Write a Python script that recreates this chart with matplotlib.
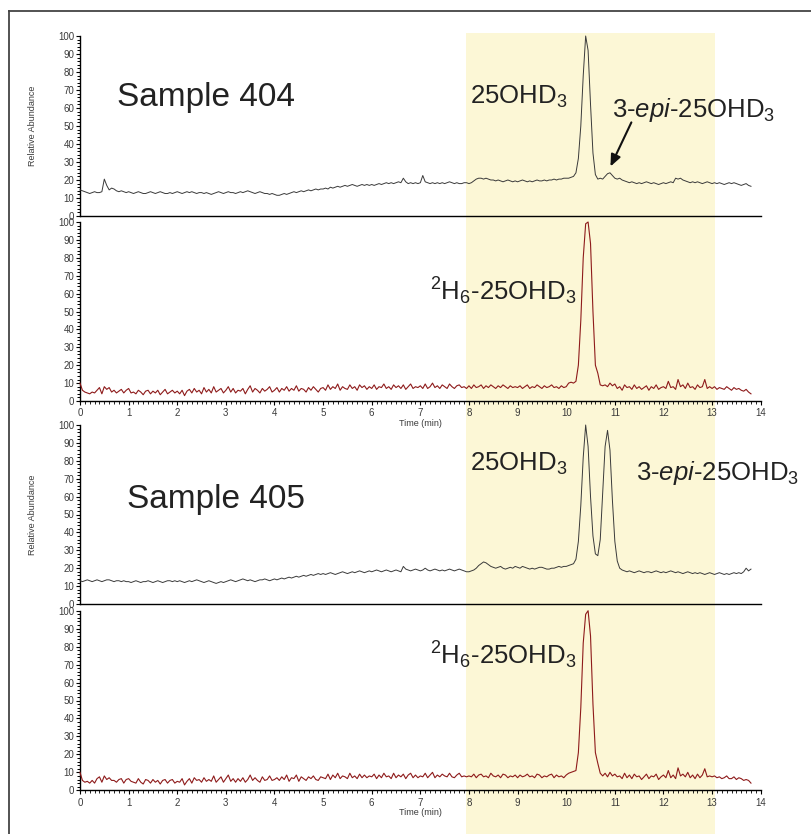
import numpy as np
import matplotlib
matplotlib.use("Agg")
import matplotlib.pyplot as plt
from matplotlib.lines import Line2D
from matplotlib.patches import Rectangle
from matplotlib.transforms import blended_transform_factory

plt.rcParams['font.family'] = ['Liberation Sans', 'DejaVu Sans']
plt.rcParams['mathtext.fontset'] = 'custom'
plt.rcParams['mathtext.rm'] = 'Liberation Sans'
plt.rcParams['mathtext.it'] = 'Liberation Sans:italic'
plt.rcParams['mathtext.default'] = 'regular'

# ---------------- data ----------------
time_min = np.round(np.arange(0, 13.801, 0.05), 2)   # retention time grid (min)

s404_analyte = [
    14.5, 14, 13.5, 13, 12.5, 13, 13.5, 13, 13, 13.5, 20.5, 17, 14.5, 15.5, 15, 14, 13.5, 14, 13.5, 13,
    13.5, 13, 12.5, 13, 13.5, 13, 12.5, 12.5, 13, 13.5, 13, 12.5, 13, 13.5, 13, 12.5, 12.5, 13, 12.5, 13,
    13.5, 13, 12.5, 13, 13.5, 13, 13.5, 13, 12.5, 13, 13, 12.5, 13, 12.5, 12, 12.5, 13, 13.5, 13, 12.5,
    13, 13.5, 13, 13, 12.5, 13, 13.5, 13, 13.5, 14, 13.5, 13, 12.5, 13, 13.5, 13, 12.5, 12.5, 12, 12.5,
    12, 11.5, 11.5, 12, 12.5, 12, 12.5, 13, 13.5, 13, 13.5, 14, 13.5, 14, 14.5, 14, 14.5, 15, 14.5, 15,
    15, 15.5, 15, 16, 15.5, 16, 16.5, 16, 16.5, 17, 16.5, 17, 17.5, 17, 16.5, 17, 17.5, 17, 17.5, 17,
    17.5, 17, 17.5, 18, 17.5, 18, 18.5, 18, 18.5, 18, 18.5, 19, 18.5, 21, 19, 18, 18.5, 18, 18.5, 18,
    18.5, 22.5, 19, 18.5, 18, 18.5, 18, 18.5, 18, 18.5, 18, 18.5, 19, 18.5, 18, 18.5, 18, 18, 18.5, 18.5,
    18, 18.5, 19.5, 20.5, 21, 21, 20.5, 21, 20.5, 20, 20, 19.5, 20, 19.5, 19, 19.5, 20, 19.5, 19, 19.5,
    19, 19.5, 20, 19.5, 19, 19.5, 19, 19.5, 20, 19.5, 19.5, 20, 19.5, 20, 20, 20.5, 20, 20.5, 20.5, 21,
    21, 21, 21.5, 22, 24, 32, 50, 78, 100, 92, 62, 35, 23, 20.5, 21, 20.5, 22, 23.5, 24, 22.5,
    21, 20.5, 21, 20, 19.5, 19, 18.5, 19, 18.5, 18, 18.5, 18, 18.5, 19, 18.5, 18, 18.5, 18, 17.5, 18,
    18.5, 18, 18.5, 19, 18.5, 21, 20.5, 21, 20, 19.5, 19, 18.5, 19, 18.5, 19, 18.5, 18, 18.5, 19, 18.5,
    18, 18.5, 18, 18.5, 18, 17.5, 18, 18.5, 18, 18.5, 18, 17.5, 17, 17.5, 18, 17, 16.5,
]

s404_internal = [
    10, 6, 5, 4.5, 4, 5, 4.5, 6, 7.5, 4, 8, 6.5, 7.5, 5, 6, 4.5, 5.5, 6.5, 4.5, 6,
    7, 4.5, 5, 4, 6, 5, 3.5, 5.5, 6, 4, 5.5, 4.5, 6, 3.5, 5, 6.5, 4, 5, 6, 4.5,
    5.5, 4, 6, 3, 5.5, 6.5, 4.5, 7, 5, 6, 4, 7.5, 5, 6.5, 4.5, 8, 5, 6, 7, 4.5,
    6, 8, 5, 7, 4.5, 6, 5.5, 7, 4, 6.5, 8.5, 5, 7, 6, 4.5, 7, 5.5, 6.5, 8, 5,
    6, 7.5, 5, 7, 6, 8, 5.5, 7, 6, 8.5, 5.5, 7, 6.5, 5, 7.5, 6, 8, 6.5, 5, 7,
    7.5, 6, 9, 6.5, 8, 7, 9.5, 6, 8, 7, 6.5, 9, 7, 8, 6, 9, 7.5, 8.5, 6.5, 8,
    7, 9, 6.5, 8, 7.5, 9.5, 7, 8, 6.5, 9, 7.5, 8.5, 7, 9, 6.5, 8, 9.5, 7, 8, 7.5,
    8.5, 7, 9.5, 7, 8, 10, 7.5, 8.5, 7, 9, 8, 7, 9.5, 8, 7, 8.5, 9, 7.5, 8, 7,
    8.5, 7, 9, 7.5, 8, 9, 7, 8.5, 7.5, 9, 8, 7, 8.5, 7.5, 9, 8, 7, 8.5, 7.5, 8,
    7.5, 8.5, 7, 8, 9, 7, 8, 7.5, 9, 8, 7, 8.5, 7.5, 8, 9, 7.5, 8, 7, 8.5, 7.5,
    8, 10, 10.5, 10, 11, 20, 45, 80, 99, 100, 88, 50, 20, 15.5, 9, 8.5, 9, 8, 10, 8.5,
    9.5, 7, 8, 6, 9, 7.5, 8, 6.5, 9, 7, 8, 6.5, 7.5, 8.5, 6, 8, 7, 9, 6.5, 7.5,
    8, 7, 11, 7.5, 8, 6.5, 12, 8, 9, 7, 10, 7.5, 8, 6.5, 9, 7.5, 8, 12, 7, 8,
    7, 8, 6.5, 7.5, 7, 6.5, 8, 7, 6, 7.5, 6.5, 7, 6, 5.5, 6.5, 5, 4,
]

s405_analyte = [
    13, 12.5, 13, 13.5, 13, 12.5, 13, 13.5, 13, 12.5, 13, 13.5, 13.5, 13, 12.5, 13, 13, 12.5, 13, 12.5,
    12.5, 12, 12.5, 13, 12.5, 12, 12.5, 12.5, 13, 12.5, 12, 12.5, 13, 12.5, 12, 12.5, 13, 13, 12.5, 13,
    12.5, 13, 12.5, 12, 12.5, 13, 12.5, 13, 13.5, 13, 12.5, 12, 12.5, 13, 12.5, 12, 11.5, 12, 12.5, 12,
    12.5, 13, 13.5, 13, 12.5, 13, 13.5, 14, 13.5, 13, 13.5, 13, 12.5, 13, 13.5, 13.5, 14, 13.5, 13, 13.5,
    14, 13.5, 14, 14.5, 14, 14.5, 15, 14.5, 15, 15.5, 15, 15.5, 16, 15.5, 16, 16.5, 16, 16.5, 17, 16.5,
    17, 16.5, 17, 17.5, 17, 16.5, 17, 17.5, 18, 17.5, 17, 17.5, 18, 17.5, 18, 18.5, 18, 17.5, 18, 18.5,
    18, 18.5, 19, 18.5, 18, 18.5, 19, 18.5, 18, 18.5, 19, 18.5, 18, 21, 19.5, 19, 18.5, 19, 19.5, 19,
    18.5, 19, 20, 19, 18.5, 19, 19.5, 19, 18.5, 19, 18.5, 19, 19.5, 19, 18.5, 19, 19.5, 19, 18.5, 18,
    18, 18.5, 19, 20, 21.5, 22.5, 23.5, 23, 22, 21, 20.5, 20, 20.5, 21, 20, 19.5, 20, 20.5, 20, 21,
    20.5, 20, 21, 20.5, 20, 19.5, 20, 19.5, 20, 20.5, 20.5, 20, 19.5, 19.5, 20, 20, 20.5, 21, 20.5, 21,
    21, 21.5, 22, 22.5, 25, 35, 55, 82, 100, 88, 60, 38, 28, 27, 36, 62, 88, 97, 86, 58,
    35, 24, 20, 19, 18.5, 18, 18.5, 18, 17.5, 18, 18.5, 18, 17.5, 18, 18, 17.5, 18, 18.5, 18, 17.5,
    18, 17.5, 18, 18.5, 18, 17.5, 18, 17.5, 17, 17.5, 18, 17.5, 17, 17.5, 17, 17.5, 17, 16.5, 17, 17.5,
    17, 16.5, 17, 17.5, 17, 16.5, 17, 16.5, 17, 17.5, 17, 17.5, 17, 18, 20, 18.5, 19.5,
]

s405_internal = [
    10, 5.5, 4.5, 5, 4, 5.5, 4, 6.5, 7.5, 4.5, 8, 6, 7, 5.5, 5.5, 4.5, 6, 6.5, 4, 6,
    6.5, 5, 4.5, 4, 6.5, 4.5, 3.5, 6, 5.5, 4, 6, 4.5, 5.5, 3.5, 5.5, 6, 4, 5.5, 6, 4,
    5, 4.5, 6.5, 3, 5, 6.5, 4, 7, 5.5, 6, 4.5, 7, 5, 6, 5, 8, 4.5, 6, 7.5, 4.5,
    6.5, 8.5, 5, 6.5, 4.5, 6.5, 5, 7, 4.5, 6, 8.5, 5.5, 7, 5.5, 4.5, 7.5, 5.5, 6, 8, 5.5,
    6, 7, 5.5, 7.5, 6, 8.5, 5, 7, 6.5, 8.5, 5, 7.5, 6.5, 5.5, 7.5, 6.5, 8, 6, 5.5, 7.5,
    7, 6.5, 9, 6, 8.5, 7, 9.5, 6.5, 8, 7.5, 6.5, 9.5, 7, 8, 6.5, 9, 7, 8.5, 7, 8,
    7.5, 9, 6.5, 8.5, 7, 9.5, 7.5, 8, 6.5, 9.5, 7, 8.5, 7.5, 9, 6.5, 8.5, 9.5, 7, 8.5, 7,
    8, 7.5, 9.5, 7, 8.5, 10, 7, 8.5, 7.5, 9, 8, 7.5, 9.5, 7.5, 7, 8.5, 9.5, 7.5, 8, 7.5,
    8, 7.5, 9, 7, 8.5, 9, 7.5, 8, 7, 9.5, 8, 7.5, 8.5, 7, 9, 8.5, 7, 8, 7.5, 8.5,
    7, 8.5, 7.5, 8, 9, 7.5, 8, 7, 9, 8.5, 7, 8, 7.5, 8.5, 9, 7, 8.5, 7.5, 8, 7,
    8.5, 9.5, 10, 10.5, 11, 21, 46, 82, 98, 100, 86, 48, 21, 15, 9.5, 8, 9.5, 7.5, 10, 8,
    9, 7.5, 8, 6.5, 9.5, 7, 8.5, 6.5, 9, 7.5, 8, 6, 7.5, 9, 6.5, 8, 7.5, 9, 6, 7.5,
    8.5, 7, 11, 7, 8.5, 6.5, 12.5, 8, 9, 7.5, 10, 7, 8.5, 6.5, 9, 7, 8.5, 12, 7.5, 8,
    7.5, 8, 7, 7.5, 6.5, 7, 8, 6.5, 6.5, 7.5, 6, 7, 6.5, 5.5, 6, 5.5, 4,
]

highlight_window = (7.93, 13.06)   # min
x_ticks = list(range(0, 15))
y_ticks = list(range(0, 101, 10))

# ---------------- figure ----------------
W, H = 812, 834
fig = plt.figure(figsize=(W / 100, H / 100), dpi=100)
fig.patch.set_facecolor('white')

def px_rect(x0, y_top, x1, y_bot):
    return [x0 / W, (H - y_bot) / H, (x1 - x0) / W, (y_bot - y_top) / H]

rects = [
    px_rect(80, 36, 760.7, 216),
    px_rect(80, 222, 760.7, 401),
    px_rect(80, 425, 760.7, 604),
    px_rect(80, 610.7, 760.7, 790.3),
]
axes = [fig.add_axes(r) for r in rects]

black = '#3a3a3a'
red = '#8e1b1b'
tick_col = '#3a3a3a'

series = [(s404_analyte, black, 0.7), (s404_internal, red, 0.8),
          (s405_analyte, black, 0.7), (s405_internal, red, 0.8)]

for i, (ax, (vals, col, lw)) in enumerate(zip(axes, series)):
    ax.set_facecolor('none')
    ax.plot(time_min, vals, color=col, lw=lw, clip_on=False, zorder=3)
    ax.set_xlim(0, 14)
    ax.set_ylim(0, 100)
    for s in ('top', 'right'):
        ax.spines[s].set_visible(False)
    ax.spines['left'].set_linewidth(1.0)
    ax.spines['bottom'].set_linewidth(1.0)
    ax.set_yticks(y_ticks)
    ax.set_yticks(np.arange(0, 101, 2), minor=True)
    ax.tick_params(axis='y', which='major', direction='out', length=3.2, width=0.8,
                   labelsize=7, pad=1, colors='black', labelcolor=tick_col)
    ax.tick_params(axis='y', which='minor', direction='out', length=2.2, width=0.7)
    if i % 2 == 1:
        ax.set_xticks(x_ticks)
        ax.set_xticks(np.arange(0, 14.01, 0.1), minor=True)
        ax.tick_params(axis='x', which='major', direction='out', length=3.2, width=0.8,
                       labelsize=7, pad=2, labelcolor=tick_col)
        ax.tick_params(axis='x', which='minor', direction='out', length=2.0, width=0.6)
        ax.set_xlabel('Time (min)', fontsize=6.5, color=tick_col)
        ax.xaxis.label.set_va('center')
        ax.xaxis.set_label_coords(0.5, -0.123)
    else:
        ax.set_xticks([])
        ax.set_ylabel('Relative Abundance', fontsize=6.5, color=tick_col)
        ax.yaxis.label.set_va('center')
        ax.yaxis.set_label_coords((33 - 80) / 680.7, 0.5)

# highlighted retention-time window spanning all panels
tr = blended_transform_factory(axes[0].transData, fig.transFigure)
fig.add_artist(Rectangle((highlight_window[0], 0), highlight_window[1] - highlight_window[0],
                         (H - 33) / H, transform=tr, facecolor='#fcf7d6',
                         edgecolor='none', zorder=-5))

big = 24
lab = 18.5
axes[0].text(0.76, 61, 'Sample 404', fontsize=big, color='#222222')
axes[0].text(8.02, 62.5, '25OHD$_3$', fontsize=lab, color='#222222')
axes[0].text(10.94, 55, '3-$\\mathit{epi}$-25OHD$_3$', fontsize=lab, color='#222222')
axes[0].annotate('', xy=(10.91, 27.5), xytext=(11.34, 52),
                 arrowprops=dict(arrowstyle='-|>,head_length=0.7,head_width=0.3',
                                 color='#111111', lw=1.5, shrinkA=0, shrinkB=0))
axes[1].text(7.2, 56, '$^2$H$_6$-25OHD$_3$', fontsize=lab, color='#222222')
axes[2].text(0.97, 53.5, 'Sample 405', fontsize=big, color='#222222')
axes[2].text(8.02, 74.5, '25OHD$_3$', fontsize=lab, color='#222222')
axes[2].text(11.43, 69.3, '3-$\\mathit{epi}$-25OHD$_3$', fontsize=lab, color='#222222')
axes[3].text(7.2, 70, '$^2$H$_6$-25OHD$_3$', fontsize=lab, color='#222222')

# outer frame (left and top edges)
fig.add_artist(Line2D([9 / W, 9 / W], [0, (H - 11) / H], transform=fig.transFigure,
                      color='#444444', lw=1.3))
fig.add_artist(Line2D([9 / W, 1], [(H - 11) / H, (H - 11) / H], transform=fig.transFigure,
                      color='#444444', lw=1.3))

fig.savefig('out.png', dpi=100, facecolor='white')
